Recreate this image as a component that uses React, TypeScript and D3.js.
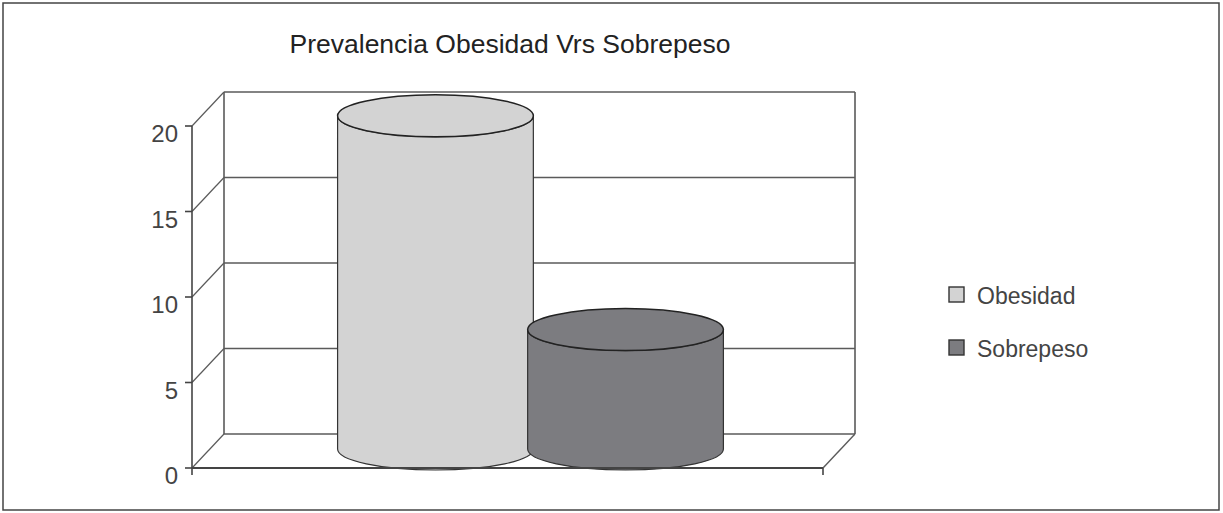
import * as d3 from "d3";

const categories = ["Prevalencia"];
const seriesNames = ["Obesidad", "Sobrepeso"];
const seriesValues = [19.6, 7.1];
const seriesColors = ["#d3d3d3", "#7c7c80"];
const yTicks = [0, 5, 10, 15, 20];

const W = 1223;
const H = 513;
// 3D depth offset
const DX = 32;
const DY = -34;
const FONT = "Liberation Sans, Arial, sans-serif";

export default function App() {
  const y = d3.scaleLinear().domain([0, 20]).range([468, 126]);
  const x0 = d3.scaleBand().domain(categories).range([192, 823]).padding(0);
  const x1 = d3
    .scaleBand()
    .domain(seriesNames)
    .range([x0(categories[0])!, x0(categories[0])! + x0.bandwidth()])
    .paddingInner(0)
    .paddingOuter(0.66);

  const left = 192;
  const right = 823;
  const gridStroke = "#5a5a5a";
  const ry = 21;

  return (
    <svg width={W} height={H} style={{ position: "absolute", left: 0, top: 0 }}>
      <rect x={3} y={3} width={1216} height={507} fill="#fff" stroke="#444" strokeWidth={1.5} />
      <text x={510} y={53} textAnchor="middle" fontFamily={FONT} fontSize={26.5} fill="#222">
        Prevalencia Obesidad Vrs Sobrepeso
      </text>

      {/* back wall gridlines */}
      {yTicks.map((t) => (
        <line
          key={"g" + t}
          x1={left + DX}
          x2={right + DX}
          y1={y(t) + DY}
          y2={y(t) + DY}
          stroke={gridStroke}
          strokeWidth={1.6}
        />
      ))}
      {/* side wall diagonals */}
      {yTicks.map((t) => (
        <line
          key={"d" + t}
          x1={left}
          x2={left + DX}
          y1={y(t)}
          y2={y(t) + DY}
          stroke={gridStroke}
          strokeWidth={1.2}
        />
      ))}
      <line x1={left + DX} x2={left + DX} y1={y(20) + DY} y2={y(0) + DY} stroke={gridStroke} strokeWidth={1.6} />
      <line x1={right + DX} x2={right + DX} y1={y(20) + DY} y2={y(0) + DY} stroke={gridStroke} strokeWidth={1.6} />
      {/* floor */}
      <line x1={right} x2={right + DX} y1={y(0)} y2={y(0) + DY} stroke={gridStroke} strokeWidth={1.4} />

      {/* cylinders */}
      {seriesNames.map((s, i) => {
        const cx = x1(s)! + x1.bandwidth() / 2 + DX / 2 + 7;
        const rx = x1.bandwidth() * 0.515;
        const yb = y(0) + DY / 2 - 2;
        const yt = y(seriesValues[i]) + DY / 2;
        const body = `M${cx - rx},${yt} L${cx - rx},${yb} A${rx},${ry} 0 0 0 ${cx + rx},${yb} L${cx + rx},${yt} A${rx},${ry} 0 0 1 ${cx - rx},${yt} Z`;
        return (
          <g key={s}>
            <path d={body} fill={seriesColors[i]} stroke="#333" strokeWidth={1.2} />
            <ellipse cx={cx} cy={yt} rx={rx} ry={ry} fill={seriesColors[i]} stroke="#222" strokeWidth={1.5} />
          </g>
        );
      })}

      {/* front axis */}
      <line x1={left} x2={left} y1={y(20)} y2={y(0) + 7} stroke="#444" strokeWidth={1.6} />
      <line x1={left} x2={right} y1={y(0)} y2={y(0)} stroke="#444" strokeWidth={2} />
      <line x1={right} x2={right} y1={y(0)} y2={y(0) + 7} stroke="#444" strokeWidth={1.6} />
      {yTicks.map((t) => (
        <g key={"t" + t}>
          <line x1={left - 7} x2={left} y1={y(t)} y2={y(t)} stroke="#444" strokeWidth={1.6} />
          <text x={left - 14} y={y(t) + 16} textAnchor="end" fontFamily={FONT} fontSize={24} fill="#444">
            {t}
          </text>
        </g>
      ))}

      {/* legend */}
      {seriesNames.map((s, i) => (
        <g key={"l" + s} transform={`translate(949,${287 + i * 53})`}>
          <rect width={15} height={15} fill={seriesColors[i]} stroke="#333" strokeWidth={1.4} />
          <text x={28} y={17} fontFamily={FONT} fontSize={23} fill="#444">
            {s}
          </text>
        </g>
      ))}
    </svg>
  );
}
